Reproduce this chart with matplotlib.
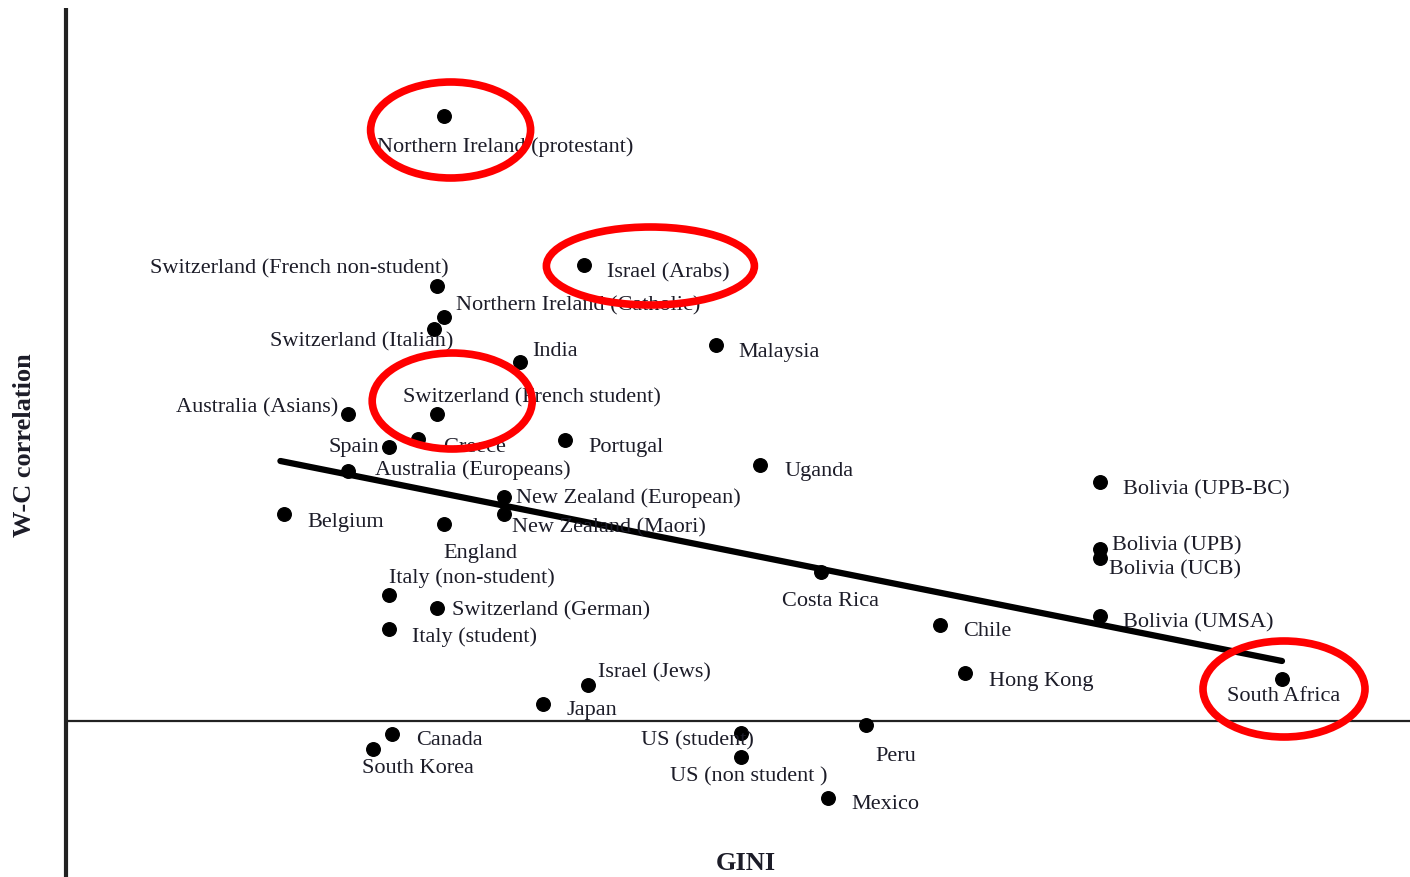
import matplotlib.pyplot as plt
from matplotlib.patches import Ellipse

# Groups, GINI and within-culture (W-C) correlation
groups = [
    "Northern Ireland (protestant)", "Switzerland (French non-student)",
    "Northern Ireland (Catholic)", "Switzerland (Italian)", "Israel (Arabs)",
    "India", "Malaysia", "Switzerland (French student)", "Australia (Asians)",
    "Spain", "Greece", "Portugal", "Uganda", "Australia (Europeans)",
    "New Zealand (European)", "New Zealand (Maori)", "Belgium", "England",
    "Italy (non-student)", "Switzerland (German)", "Italy (student)",
    "Israel (Jews)", "Japan", "Canada", "South Korea", "US (student)",
    "US (non student )", "Peru", "Mexico", "Costa Rica", "Chile", "Hong Kong",
    "Bolivia (UPB-BC)", "Bolivia (UPB)", "Bolivia (UCB)", "Bolivia (UMSA)",
    "South Africa",
]
gini = [35.8, 35.6, 35.8, 35.5, 40.2, 38.2, 44.3, 35.6, 32.8, 34.1, 35.0,
        39.6, 45.7, 32.8, 37.7, 37.7, 30.8, 35.8, 34.1, 35.6, 34.1, 40.3,
        38.9, 34.2, 33.6, 45.1, 45.1, 49.0, 47.8, 47.6, 51.3, 52.1, 56.3,
        56.3, 56.3, 56.3, 62.0]
wc_corr = [0.605, 0.435, 0.404, 0.392, 0.456, 0.359, 0.376, 0.307, 0.307,
           0.274, 0.282, 0.281, 0.256, 0.250, 0.224, 0.207, 0.207, 0.197,
           0.126, 0.113, 0.092, 0.036, 0.017, -0.013, -0.028, -0.012, -0.036,
           -0.004, -0.077, 0.149, 0.096, 0.048, 0.239, 0.172, 0.163, 0.105,
           0.042]

# fitted trend line (end points as drawn)
fit_x = [30.7, 62.0]
fit_y = [0.260, 0.060]

# highlighted groups
highlighted = ["Northern Ireland (protestant)", "Israel (Arabs)",
               "Switzerland (French student)", "South Africa"]

# label offsets in pixels (dx, dy down) and alignment
label_pos = {
    "Northern Ireland (protestant)": (-67, 28, "left"),
    "Switzerland (French non-student)": (11, -20, "right"),
    "Northern Ireland (Catholic)": (12, -14, "left"),
    "Switzerland (Italian)": (19, 10, "right"),
    "Israel (Arabs)": (23, 5, "left"),
    "India": (12, -13, "left"),
    "Malaysia": (23, 4, "left"),
    "Switzerland (French student)": (-34, -19, "left"),
    "Australia (Asians)": (-9, -9, "right"),
    "Spain": (-10, -2, "right"),
    "Greece": (25, 6, "left"),
    "Portugal": (23, 5, "left"),
    "Uganda": (24, 4, "left"),
    "Australia (Europeans)": (27, -4, "left"),
    "New Zealand (European)": (12, -2, "left"),
    "New Zealand (Maori)": (8, 11, "left"),
    "Belgium": (24, 5, "left"),
    "England": (0, 27, "left"),
    "Italy (non-student)": (0, -20, "left"),
    "Switzerland (German)": (15, 0, "left"),
    "Italy (student)": (23, 5, "left"),
    "Israel (Jews)": (10, -15, "left"),
    "Japan": (24, 4, "left"),
    "Canada": (24, 4, "left"),
    "South Korea": (-11, 17, "left"),
    "US (student)": (-100, 5, "left"),
    "US (non student )": (-71, 17, "left"),
    "Peru": (9, 29, "left"),
    "Mexico": (24, 4, "left"),
    "Costa Rica": (-39, 27, "left"),
    "Chile": (24, 3, "left"),
    "Hong Kong": (24, 6, "left"),
    "Bolivia (UPB-BC)": (23, 5, "left"),
    "Bolivia (UPB)": (12, -6, "left"),
    "Bolivia (UCB)": (9, 9, "left"),
    "Bolivia (UMSA)": (23, 4, "left"),
    "South Africa": (-55, 15, "left"),
}

# ellipse centre offset (px) and size (px) around highlighted points
ring_geom = {
    "Northern Ireland (protestant)": (7, 14, 160, 96),
    "Israel (Arabs)": (66, 1, 208, 78),
    "Switzerland (French student)": (15, -13, 160, 96),
    "South Africa": (2, 10, 162, 96),
}

PX_X = 1 / 32.0     # GINI units per pixel
PX_Y = 1 / 1000.0   # correlation units per pixel

fig = plt.figure(figsize=(14.1, 8.78), dpi=100)
ax = fig.add_axes([0, 0, 1, 1])
ax.set_xlim(24 - 66 * PX_X, 24 + 1344 * PX_X)
ax.set_ylim(-156 * PX_Y, 722 * PX_Y)
ax.axis("off")

font = "Liberation Serif"
txt_color = "#1c1c28"

# axes lines
ax.plot([24, 24], [-156 * PX_Y, 713 * PX_Y], color="#222222", lw=3.0,
        solid_capstyle="butt")
ax.plot([24, 24 + 1344 * PX_X], [0, 0], color="#222222", lw=1.6)

ax.plot(fit_x, fit_y, color="black", lw=4.5, solid_capstyle="round", zorder=3)
ax.scatter(gini, wc_corr, s=95, color="black", zorder=4)

for g, x, y in zip(groups, gini, wc_corr):
    dx, dy, ha = label_pos[g]
    ax.annotate(g, (x, y), xytext=(dx * 0.72, -(dy + 2) * 0.72),
                textcoords="offset points", ha=ha, va="center",
                fontsize=16, family=font, color=txt_color, zorder=5)

for g in highlighted:
    i = groups.index(g)
    ox, oy, w, h = ring_geom[g]
    ax.add_patch(Ellipse((gini[i] + ox * PX_X, wc_corr[i] - oy * PX_Y),
                         w * PX_X, h * PX_Y, fill=False,
                         edgecolor="#ff0000", lw=5.5, zorder=6))

ax.text(24 + (746 - 66) * PX_X, (722 - 864) * PX_Y, "GINI", ha="center",
        va="center", fontsize=19, fontweight="bold", family=font,
        color=txt_color)
ax.text(24 - 41 * PX_X, (722 - 445) * PX_Y, "W-C correlation", ha="center",
        va="center", rotation=90, fontsize=19, fontweight="bold",
        family=font, color=txt_color)

fig.savefig("out.png", dpi=100)
